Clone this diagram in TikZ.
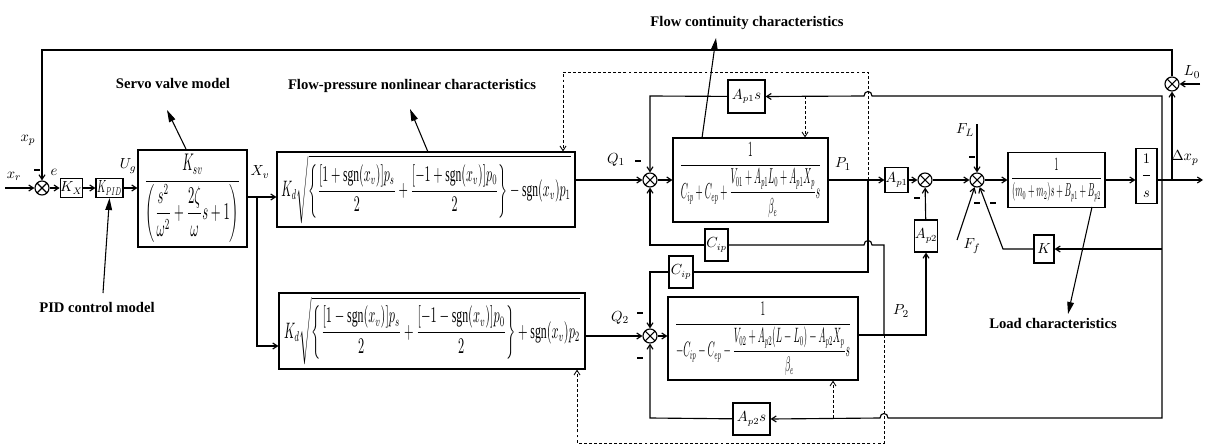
\documentclass[tikz,border=0pt]{standalone}
\usepackage{amsmath}
\usepackage{fontspec}
\setmainfont{Liberation Serif}
\usepackage{graphicx}
\usetikzlibrary{arrows.meta,calc}
\begin{document}
\begin{tikzpicture}[x=0.75pt,y=-0.75pt,
  ln/.style={line width=0.85pt},
  sig/.style={line width=0.85pt,-{Straight Barb[length=3.5pt,width=4.5pt]}},
  dsh/.style={line width=0.65pt,dash pattern=on 2.2pt off 1.6pt},
  dsig/.style={dsh,-{Straight Barb[length=3.5pt,width=4.5pt]}},
  ann/.style={line width=0.8pt,-{Triangle[length=9pt,width=5pt]}},
  blk/.style={draw,line width=0.85pt,inner sep=0pt,align=center,font=\fontsize{10.5}{12}\selectfont},
  sumj/.style={circle,draw,line width=0.85pt,minimum size=10.5pt,inner sep=0pt,
     path picture={\draw[line width=0.8pt] (path picture bounding box.north west)--(path picture bounding box.south east) (path picture bounding box.north east)--(path picture bounding box.south west);}},
  lbl/.style={font=\fontsize{11}{13}\selectfont,inner sep=1pt},
  note/.style={font=\bfseries\fontsize{11}{12}\selectfont,inner sep=0pt},
  negsign/.style={inner sep=0pt}
]
\useasboundingbox (0,0) rectangle (1205,446);

% ---------- blocks ----------
\node[blk,minimum width=15.75pt,minimum height=14.25pt] (KX) at (71.5,188) {$K_X$};
\node[blk,minimum width=20.25pt,minimum height=14.25pt] (KPID) at (109.5,188) {\resizebox*{18.5pt}{11pt}{$K_{PID}$}};
\node[blk,minimum width=81.75pt,minimum height=72.75pt] (servo) at (192.5,198.5)
  {\resizebox*{72pt}{66pt}{$\dfrac{K_{sv}}{\left(\dfrac{s^2}{\omega^2}+\dfrac{2\zeta}{\omega}s+1\right)}$}};
\node[blk,minimum width=223.5pt,minimum height=56.25pt] (fp1) at (426,189.5)
  {\resizebox*{217pt}{51pt}{$K_d\sqrt{\left\{\dfrac{[1+\mathrm{sgn}(x_v)]p_s}{2}+\dfrac{[-1+\mathrm{sgn}(x_v)]p_0}{2}\right\}-\mathrm{sgn}(x_v)p_1}$}};
\node[blk,minimum width=229.5pt,minimum height=57pt] (fp2) at (432,331)
  {\resizebox*{222pt}{51pt}{$K_d\sqrt{\left\{\dfrac{[1-\mathrm{sgn}(x_v)]p_s}{2}+\dfrac{[-1-\mathrm{sgn}(x_v)]p_0}{2}\right\}+\mathrm{sgn}(x_v)p_2}$}};
\node[blk,minimum width=116.25pt,minimum height=63pt] (cont1) at (750.5,180)
  {\resizebox*{106pt}{56pt}{$\dfrac{1}{C_{ip}+C_{ep}+\dfrac{V_{01}+A_{p1}L_0+A_{p1}X_p}{\beta_e}s}$}};
\node[blk,minimum width=142.5pt,minimum height=62.25pt] (cont2) at (763,338.5)
  {\resizebox*{132pt}{55pt}{$\dfrac{1}{-C_{ip}-C_{ep}-\dfrac{V_{02}+A_{p2}(L-L_0)-A_{p2}X_p}{\beta_e}s}$}};
\node[blk,minimum width=72.75pt,minimum height=41.25pt] (mass) at (1056.5,180)
  {\resizebox*{68pt}{32pt}{$\dfrac{1}{(m_0+m_2)s+B_{p1}+B_{p2}}$}};
\node[blk,minimum width=15.75pt,minimum height=41.25pt] (invs) at (1146.5,176)
  {$\dfrac{1\rule[-7pt]{0pt}{7pt}}{\rule{0pt}{15pt}s}$};
\node[blk,minimum width=27.75pt,minimum height=24.75pt] (Ap1s) at (746.5,96.5) {$A_{p1}s$};
\node[blk,minimum width=27.75pt,minimum height=24pt] (Ap2s) at (751.5,419) {$A_{p2}s$};
\node[blk,minimum width=17.25pt,minimum height=24pt] (Cip1) at (716.5,245) {$C_{ip}$};
\node[blk,minimum width=18pt,minimum height=24pt] (Cip2) at (681,272) {$C_{ip}$};
\node[blk,minimum width=17.25pt,minimum height=18.75pt] (Ap1) at (896.5,180) {$A_{p1}$};
\node[blk,minimum width=16.5pt,minimum height=24pt] (Ap2) at (926,236) {$A_{p2}$};
\node[blk,minimum width=15pt,minimum height=21pt] (K) at (1044,249) {$K$};

% ---------- summing junctions ----------
\node[sumj] (s1) at (42,188) {};
\node[sumj] (s2) at (650,180) {};
\node[sumj] (s3) at (650,336) {};
\node[sumj] (s4) at (925,180) {};
\node[sumj] (s5) at (977,180) {};
\node[sumj] (s6) at (1172,84) {};

% ---------- coordinates ----------
\coordinate (xin) at (5,188);
\coordinate (tl) at (42,50);
\coordinate (tr) at (1172,50);
\coordinate (L0in) at (1200,84);
\coordinate (xv) at (257,197);
\coordinate (xvd) at (257,346);
\coordinate (p1j) at (868,180);
\coordinate (p1d) at (868,272);
\coordinate (p2j) at (884,335);
\coordinate (p2u) at (884,245);
\coordinate (p2r) at (926,335);
\coordinate (oj) at (1162,180);
\coordinate (ojt) at (1162,96);
\coordinate (ojb) at (1162,418);
\coordinate (ojk) at (1162,249);
\coordinate (kl) at (1003,249);
\coordinate (out) at (1203,180);
\coordinate (outL) at (1172,180);
\coordinate (FLin) at (977,124);
\coordinate (Ffin) at (957,240);
\coordinate (dtop1) at (868,72);
\coordinate (dtop2) at (563,72);
\coordinate (dbot1) at (884,443);
\coordinate (dbot2) at (577,443);
\coordinate (dv1) at (805,96);
\coordinate (dv2) at (833,418);
\coordinate (c96) at (650,96);
\coordinate (c418) at (650,418);
\coordinate (c245) at (650,245);
\coordinate (c272) at (650,272);

% ---------- main forward path ----------
\draw[sig] (xin) -- (s1);
\draw[sig] (s1) -- (KX);
\draw[sig] (KX) -- (KPID);
\draw[sig] (KPID) -- (KPID.east -| servo.west);
\draw[ln] (servo.east |- xv) -- (xv);
\draw[sig] (xv) -- (xv -| fp1.west);
\draw[sig] (xv) -- (xvd) -- (xvd -| fp2.west);
\draw[sig] (fp1.east |- s2) -- (s2);
\draw[sig] (s2) -- (cont1);
\draw[ln] (cont1) -- (p1j);
\draw[sig] (p1j) -- (Ap1);
\draw[sig] (Ap1) -- (s4);
\draw[sig] (s4) -- (s5);
\draw[sig] (s5) -- (mass);
\draw[sig] (mass) -- (mass -| invs.west);
\draw[sig] (invs.east |- out) -- (out);
\draw[sig] (outL) -- (s6);
\draw[sig] (L0in) -- (s6);
\draw[sig] (s6) -- (tr) -- (tl) -- (s1);
\draw[sig] (fp2.east |- s3) -- (s3);
\draw[sig] (s3) -- (s3 -| cont2.west);

% ---------- feedbacks ----------
\draw[sig] (oj) -- (ojt) -- (872,96) .. controls (872,90) and (864,90) .. (864,96) -- (Ap1s.east);
\draw[sig] (Ap1s) -- (c96) -- (s2);
\draw[sig] (oj) -- (ojb) -- (888,418) .. controls (888,412) and (880,412) .. (880,418) -- (Ap2s.east);
\draw[sig] (Ap2s) -- (c418) -- (s3);
\draw[sig] (ojk) -- (K);
\draw[sig] (K) -- (kl) -- (s5);
\draw[sig] (FLin) -- (s5);
\draw[sig] (Ffin) -- (s5);
\draw[ln] (p1j) -- (p1d) -- (Cip2);
\draw[sig] (Cip2) -- (c272) -- (s3);
\draw[ln] (cont2.east |- p2j) -- (p2j);
\draw[sig] (p2j) -- (p2r) -- (Ap2);
\draw[sig] (Ap2) -- (s4);
\draw[ln] (p2j) -- (p2u) -- (872,245) .. controls (872,239) and (864,239) .. (864,245) -- (Cip1);
\draw[sig] (Cip1) -- (c245) -- (s2);

% ---------- dashed ----------
\draw[dsig] (p1j) -- (dtop1) -- (dtop2) -- (dtop2 |- fp1.north);
\draw[dsig] (dv1) -- (dv1 |- cont1.north);
\draw[dsig] (p2j) -- (dbot1) -- (dbot2) -- (dbot2 |- fp2.south);
\draw[dsig] (dv2) -- (dv2 |- cont2.south);

% ---------- signal labels ----------
\node[lbl] (lxr) at (14,176) {$x_r$};
\node[lbl] (lxp) at (28,140) {$x_p$};
\node[lbl] (le) at (54,172) {$e$};
\node[lbl] (lUg) at (128,166) {$U_g$};
\node[lbl] (lXv) at (260,172) {$X_v$};
\node[lbl] (lQ1) at (616,160) {$Q_1$};
\node[lbl] (lP1) at (843,164) {$P_1$};
\node[lbl] (lQ2) at (620,318) {$Q_2$};
\node[lbl] (lP2) at (901,311) {$P_2$};
\node[lbl] (lFL) at (965,130) {$F_L$};
\node[lbl] (lFf) at (972,246) {$F_f$};
\node[lbl] (lL0) at (1192,72) {$L_0$};
\node[lbl] (ldx) at (1185,158) {$\Delta x_p$};

% ---------- signs ----------
\node[negsign] (m1) at (37,170) {\rule{4pt}{1.4pt}};
\node[negsign] (m2) at (638,161) {\rule{4pt}{1.4pt}};
\node[negsign] (m3) at (640,313) {\rule{4pt}{1.4pt}};
\node[negsign] (m4) at (640,358) {\rule{4pt}{1.4pt}};
\node[negsign] (m5) at (917,198) {\rule{4pt}{1.4pt}};
\node[negsign] (m6) at (972,157) {\rule{4pt}{1.4pt}};
\node[negsign] (m7) at (977,203) {\rule{4pt}{1.4pt}};
\node[negsign] (m8) at (993,203) {\rule{4pt}{1.4pt}};

% ---------- annotations ----------
\node[note] (nServo) at (173,83) {Servo valve model};
\node[note] (nPID) at (97,307) {PID control model};
\node[note] (nFP) at (412,86) {Flow-pressure nonlinear characteristics};
\node[note] (nFC) at (747,23) {Flow continuity characteristics};
\node[note] (nLoad) at (1053,323) {Load characteristics};
\coordinate (aS0) at (186,149);
\coordinate (aS1) at (167,110);
\coordinate (aP0) at (103,293);
\coordinate (aF0) at (428,152);
\coordinate (aF1) at (410,109);
\coordinate (aC0) at (702,138);
\coordinate (aC1) at (716,38);
\coordinate (aL0) at (1092,207);
\coordinate (aL1) at (1068,314);
\draw[ann] (aS0) -- (aS1);
\draw[ann] (aP0) -- (KPID.south);
\draw[ann] (aF0) -- (aF1);
\draw[ann] (aC0) -- (aC1);
\draw[ann] (aL0) -- (aL1);
\end{tikzpicture}
\end{document}
